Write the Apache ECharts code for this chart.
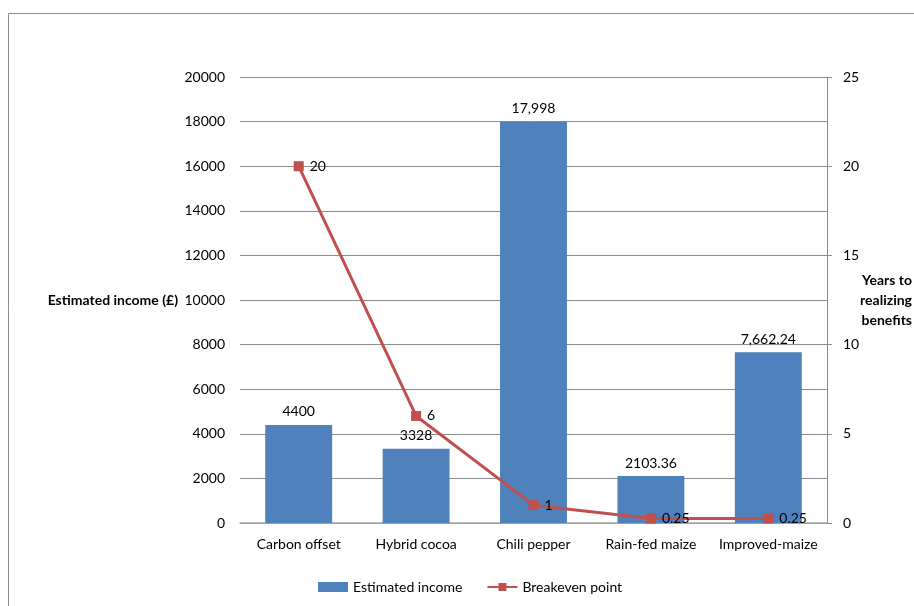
<!DOCTYPE html>
<html><head><meta charset="utf-8">
<script src="https://cdn.jsdelivr.net/npm/echarts@6/dist/echarts.min.js"></script>
<style>html,body{margin:0;padding:0;background:#fff}#c{width:914px;height:606px}</style>
</head><body><div id="c"></div>
<script>
const categories = ['Carbon offset','Hybrid cocoa','Chili pepper','Rain-fed maize','Improved-maize'];
const incomeValues = [4400, 3328, 17998, 2103.36, 7662.24];
const incomeLabels = ['4400','3328','17,998','2103.36','7,662.24'];
const breakevenValues = [20, 6, 1, 0.25, 0.25];
const leftTicks = [0, 20000, 2000];
const rightTicks = [0, 25, 5];

const FONT = 'Lato, "Open Sans", sans-serif';
const chart = echarts.init(document.getElementById('c'), null, {renderer:'canvas'});
chart.setOption({
  animation:false,
  textStyle:{fontFamily:FONT},
  graphic:[{type:'rect', silent:true, shape:{x:8.5,y:13.5,width:920,height:620}, style:{fill:'none',stroke:'#8c8c8c',lineWidth:1}}],
  grid:{left:240,right:87,top:77,bottom:83,containLabel:false,outerBoundsMode:'none'},
  legend:{bottom:7,left:313,itemGap:24,itemWidth:30,itemHeight:10,
    textStyle:{fontFamily:FONT,fontSize:14,color:'#000'},
    data:[{name:'Estimated income',icon:'rect'},{name:'Breakeven point'}]},
  xAxis:{type:'category',data:categories,
    axisLine:{lineStyle:{color:'#a6a6a6',width:1.5}},axisTick:{show:false},
    axisLabel:{interval:0,fontFamily:FONT,fontSize:14,color:'#000',margin:14}},
  yAxis:[
    {type:'value',min:leftTicks[0],max:leftTicks[1],interval:leftTicks[2],
     name:'Estimated income (£)',nameLocation:'middle',nameRotate:0,nameGap:62,nameMoveOverlap:false,
     nameTextStyle:{fontFamily:FONT,fontSize:14,fontWeight:'bold',color:'#000',align:'right',padding:[12,0,0,0]},
     axisLine:{show:false},axisTick:{show:false},
     axisLabel:{fontFamily:FONT,fontSize:14,color:'#000',margin:15,formatter:v=>String(v)},
     splitLine:{lineStyle:{color:'#8c8c8c',width:1}}},
    {type:'value',min:rightTicks[0],max:rightTicks[1],interval:rightTicks[2],
     name:'Years to\nrealizing\nbenefits',nameLocation:'middle',nameRotate:0,nameGap:85,nameMoveOverlap:false,
     nameTextStyle:{fontFamily:FONT,fontSize:14,fontWeight:'bold',color:'#000',align:'right',lineHeight:20,padding:[0,0,16,0]},
     axisLine:{show:true,lineStyle:{color:'#8c8c8c'}},axisTick:{show:true,length:5,lineStyle:{color:'#8c8c8c'}},
     axisLabel:{fontFamily:FONT,fontSize:14,color:'#000',margin:16},
     splitLine:{show:false}}
  ],
  series:[
    {name:'Estimated income',type:'bar',data:incomeValues,barWidth:'57%',
     itemStyle:{color:'#4F81BD'},
     label:{show:true,position:'top',distance:6,fontFamily:FONT,fontSize:14,color:'#000',
       formatter:p=>incomeLabels[p.dataIndex]}},
    {name:'Breakeven point',type:'line',yAxisIndex:1,data:breakevenValues,
     symbol:'rect',symbolSize:10,lineStyle:{color:'#C0504D',width:3},itemStyle:{color:'#C0504D'},
     label:{show:true,position:'right',distance:6,fontFamily:FONT,fontSize:14,color:'#000'}}
  ]
});
</script></body></html>
